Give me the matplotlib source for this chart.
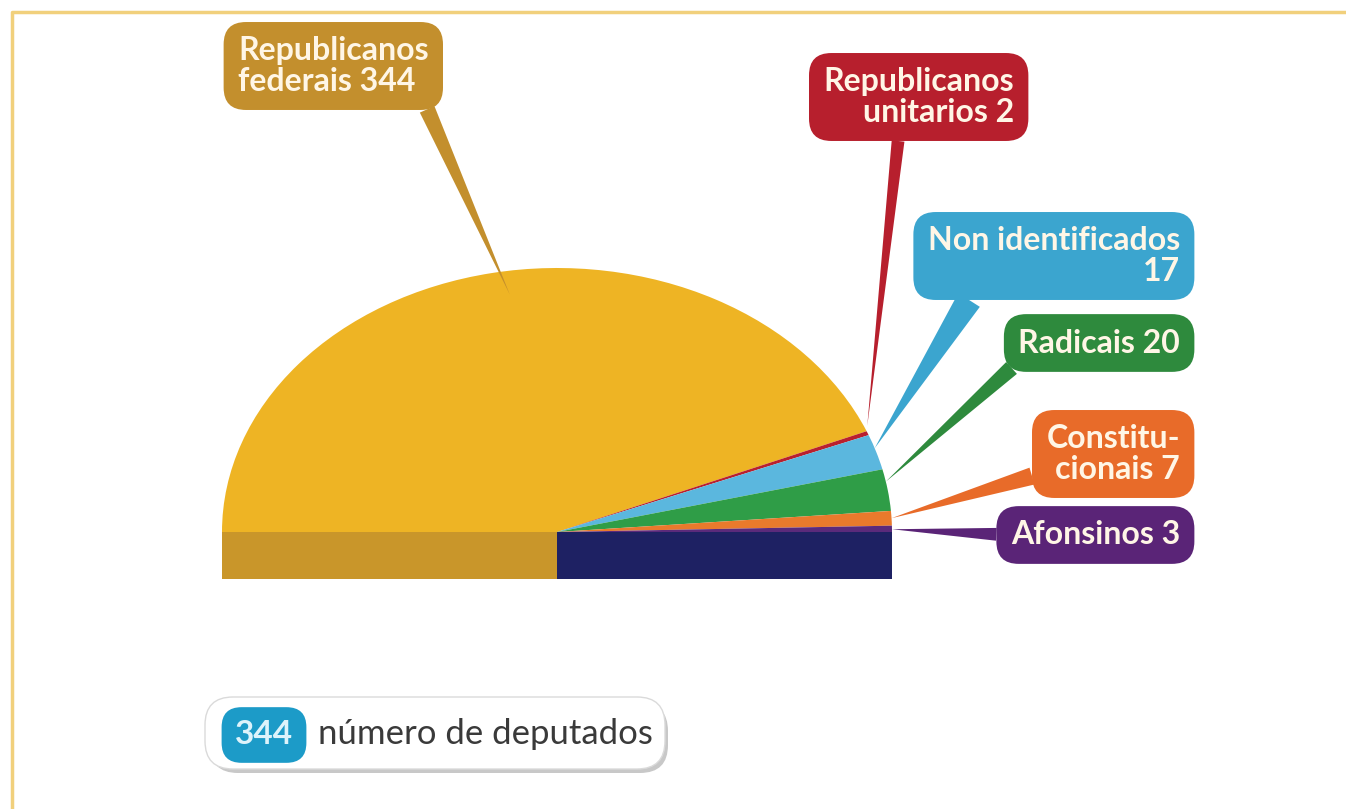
import numpy as np
import matplotlib
matplotlib.use("Agg")
import matplotlib.pyplot as plt
from matplotlib.patches import FancyBboxPatch

plt.rcParams['font.family'] = ['Lato', 'DejaVu Sans']

# data: seats per group
groups = ["Republicanos\nfederais 344", "Republicanos\nunitarios 2",
          "Non identificados\n17", "Radicais 20", "Constitu-\ncionais 7",
          "Afonsinos 3"]
seats = [344, 2, 17, 20, 7, 3]
slice_colors = ["#EEB424", "#B9202E", "#5BB7DE", "#2F9D47", "#E97A2C", "#5B2A7B"]
box_colors = ["#C38F2D", "#B71F2D", "#3BA5CF", "#2E8A3D", "#E86B29", "#5A2477"]
legend_num = "344"
legend_text = "número de deputados"

W, H = 1346, 809
fig = plt.figure(figsize=(W / 100, H / 100), dpi=100)
fig.patch.set_facecolor("white")

# full-figure axes in pixel units for frame and labels (drawn above the pie)
ax0 = fig.add_axes([0, 0, 1, 1])
ax0.set_xlim(0, W)
ax0.set_ylim(H, 0)
ax0.axis("off")
ax0.set_zorder(2)

# pie axes: unit circle squashed into an ellipse (335 px wide, 264 px tall)
cx, cy, rx, ry = 557, 532, 335, 264
band = 47 / ry
axp = fig.add_axes([(cx - rx) / W, (H - cy - band * ry) / H,
                    2 * rx / W, (ry + band * ry) / H])
axp.set_zorder(1)
total = sum(seats)
wedges, _ = axp.pie(seats + [total], colors=slice_colors + ["none"],
                    startangle=180, counterclock=False, radius=1,
                    wedgeprops=dict(linewidth=0))
axp.bar([-0.5, 0.5], [-band, -band], width=1.0, align="center",
        color=["#C9962A", "#1E2163"], linewidth=0)
axp.set_aspect("auto")
axp.set_xlim(-1, 1)
axp.set_ylim(-band, 1)
axp.axis("off")

# frame
ax0.plot([12, 12, W], [H, 12, 12], color="#F1D07C", lw=2.5, solid_capstyle="butt")

# callout tips in pie coordinates (angle in degrees, radius)
tip_polar = [(98.9, 0.91), (23.5, 1.01), (18.5, 1.0), (11.0, 1.0), (3.0, 1.0), (0.6, 1.0)]
tips = [(r * np.cos(np.radians(a)), r * np.sin(np.radians(a))) for a, r in tip_polar]
text_pos = [(238, 66, "left"), (1014, 97, "right"), (1180, 256, "right"),
            (1180, 343, "right"), (1180, 454, "right"), (1180, 535, "right")]
relpos = [(0.96, 0.0), (0.4, 0.0), (0.2, 0.0), (0.05, 0.1), (0.0, 0.2), (0.0, 0.5)]
tails = [0.5, 0.4, 0.8, 0.5, 0.55, 0.4]

for i, g in enumerate(groups):
    tx, ty, ha = text_pos[i]
    ax0.annotate(g, xy=tips[i], xycoords=axp.transData,
                 xytext=(tx, ty), textcoords="data",
                 ha=ha, va="center", ma=ha, fontsize=23, fontweight="bold",
                 color="#FFF6E6", linespacing=1.05, zorder=5,
                 bbox=dict(boxstyle="round,pad=0.45,rounding_size=0.7",
                           fc=box_colors[i], ec="none"),
                 arrowprops=dict(arrowstyle=f"wedge,tail_width={tails[i]}",
                                 fc=box_colors[i], ec="none",
                                 relpos=relpos[i], shrinkA=0, shrinkB=0))

# legend
ax0.add_patch(FancyBboxPatch((210, 703), 458, 70, boxstyle="round,pad=0,rounding_size=28",
                             fc="#C8C8C8", ec="none", zorder=3))
ax0.add_patch(FancyBboxPatch((205, 697), 460, 72, boxstyle="round,pad=0,rounding_size=28",
                             fc="white", ec="#DADADA", lw=1, zorder=4))
ax0.text(264, 735, legend_num, ha="center", va="center", fontsize=24,
         fontweight="bold", color="#DDF3FB", zorder=5,
         bbox=dict(boxstyle="round,pad=0.4,rounding_size=0.6", fc="#1C9BC8", ec="none"))
ax0.text(318, 734, legend_text, ha="left", va="center", fontsize=25,
         color="#3A3A3A", zorder=5)

fig.savefig("out.png", dpi=100)
